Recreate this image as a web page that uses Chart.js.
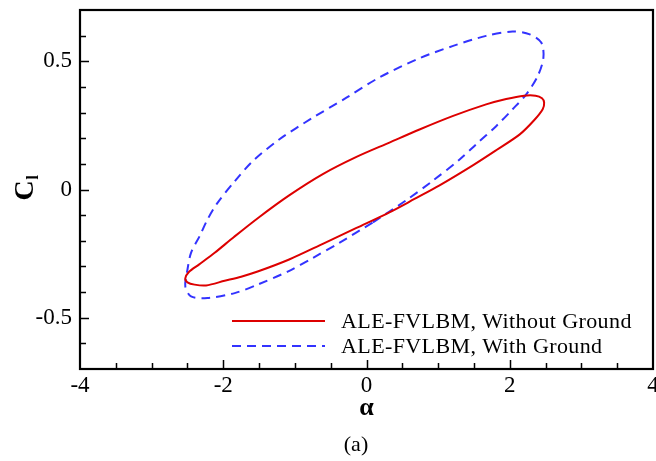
<!DOCTYPE html>
<html>
<head>
<meta charset="utf-8">
<script src="https://cdn.jsdelivr.net/npm/chart.js@4/dist/chart.umd.min.js"></script>
<style>
  html, body { margin: 0; padding: 0; background: #fff; }
</style>
</head>
<body>
<canvas id="lineChart" width="656" height="461"></canvas>
<script>
// Cl - alpha hysteresis loops, each listed once round and closed on its first point
const redAlpha = [-0.14, 0.32, 0.67, 1.02, 1.49, 1.81, 2.14, 2.34, 2.46, 2.48, 2.45, 2.36, 2.20, 1.95, 1.67, 1.21, 0.74, 0.32, -0.14,
  -0.61, -1.08, -1.50, -1.85, -2.12, -2.34, -2.48, -2.53, -2.50, -2.40, -2.24, -1.98, -1.75, -1.52, -1.08, -0.61, -0.14];
const redCl = [-0.150, -0.089, -0.037, 0.016, 0.095, 0.153, 0.215, 0.270, 0.313, 0.339, 0.356, 0.366, 0.366, 0.353, 0.332, 0.287, 0.234, 0.183, 0.127,
  0.060, -0.023, -0.108, -0.185, -0.247, -0.293, -0.322, -0.347, -0.362, -0.371, -0.374, -0.356, -0.340, -0.320, -0.273, -0.212, -0.150];

const blueAlpha = [0.09, 0.55, 0.93, 1.30, 1.53, 1.81, 2.04, 2.23, 2.39, 2.47, 2.44, 2.28, 2.04, 1.67, 1.21, 0.74, 0.18,
  -0.28, -0.75, -1.22, -1.59, -1.84, -2.08, -2.22, -2.33, -2.45, -2.50, -2.53, -2.45, -2.22, -1.84, -1.52, -1.10, -0.75, -0.38, 0.09];
const blueCl = [-0.128, -0.043, 0.035, 0.117, 0.176, 0.247, 0.313, 0.371, 0.442, 0.514, 0.573, 0.605, 0.616, 0.599, 0.560, 0.512, 0.437,
  0.358, 0.280, 0.195, 0.110, 0.032, -0.052, -0.117, -0.182, -0.247, -0.313, -0.378, -0.417, -0.423, -0.404, -0.371, -0.320, -0.267, -0.208, -0.128];

const seriesLabels = ['ALE-FVLBM, Without Ground', 'ALE-FVLBM, With Ground'];
const xTicks = [-4, -2, 0, 2, 4];
const yTicks = [-0.5, 0, 0.5];
const xMinorStep = 0.5;
const yMinorStep = 0.1;

const SERIF = '"Liberation Serif", "Times New Roman", serif';

function toPoints(xs, ys) {
  return xs.map((x, i) => ({ x: x, y: ys[i] }));
}

function isMajor(v, list) {
  return list.some(t => Math.abs(t - v) < 1e-6);
}

// box frame, inward ticks, in-plot legend and axis titles
const decorPlugin = {
  id: 'decor',
  afterDatasetsDraw(chart) {
    const { ctx, chartArea: a, scales: { x, y } } = chart;
    ctx.save();
    ctx.strokeStyle = '#000';
    ctx.lineWidth = 1.5;
    ctx.beginPath();
    const nx0 = Math.ceil(x.min / xMinorStep), nx1 = Math.floor(x.max / xMinorStep);
    for (let i = nx0; i <= nx1; i++) {
      const v = i * xMinorStep;
      if (v <= x.min || v >= x.max) continue;
      const px = Math.round(x.getPixelForValue(v)) + 0.5;
      const len = isMajor(v, xTicks) ? 9 : 6;
      ctx.moveTo(px, a.bottom);
      ctx.lineTo(px, a.bottom - len);
    }
    const ny0 = Math.ceil(y.min / yMinorStep - 1e-6), ny1 = Math.floor(y.max / yMinorStep + 1e-6);
    for (let i = ny0; i <= ny1; i++) {
      const v = i * yMinorStep;
      if (v <= y.min + 1e-6 || v >= y.max - 1e-6) continue;
      const py = Math.round(y.getPixelForValue(v)) + 0.5;
      const len = isMajor(v, yTicks) ? 9 : 6;
      ctx.moveTo(a.left, py);
      ctx.lineTo(a.left + len, py);
    }
    ctx.stroke();

    ctx.lineWidth = 2.2;
    ctx.strokeRect(a.left, a.top, a.right - a.left, a.bottom - a.top);

    // legend
    ctx.font = '22px ' + SERIF;
    ctx.letterSpacing = '0.4px';
    ctx.textAlign = 'left';
    ctx.textBaseline = 'middle';
    chart.data.datasets.forEach((ds, i) => {
      const ry = a.bottom - 48 + i * 25;
      ctx.save();
      ctx.strokeStyle = ds.borderColor;
      ctx.lineWidth = ds.borderWidth;
      ctx.setLineDash(ds.borderDash || []);
      ctx.beginPath();
      ctx.moveTo(a.left + 152, ry);
      ctx.lineTo(a.left + 245, ry);
      ctx.stroke();
      ctx.restore();
      ctx.fillStyle = '#000';
      ctx.fillText(ds.label, a.left + 261, ry + 1);
    });
    ctx.letterSpacing = '0px';

    // axis titles
    ctx.fillStyle = '#000';
    ctx.textAlign = 'center';
    ctx.font = 'bold 26px ' + SERIF;
    ctx.fillText('α', (a.left + a.right) / 2, a.bottom + 39);

    ctx.save();
    ctx.translate(33, (a.top + a.bottom) / 2 - 2);
    ctx.rotate(-Math.PI / 2);
    ctx.textAlign = 'left';
    ctx.textBaseline = 'alphabetic';
    ctx.font = 'bold 28px ' + SERIF;
    const cw = ctx.measureText('C').width;
    ctx.fillText('C', -cw / 2 - 3, 0);
    ctx.font = 'bold 16px ' + SERIF;
    ctx.fillText('l', cw / 2 - 2, 5);
    ctx.restore();

    ctx.font = '22px ' + SERIF;
    ctx.textAlign = 'center';
    ctx.textBaseline = 'middle';
    ctx.fillText('(a)', 356, 445);
    ctx.restore();
  }
};

new Chart(document.getElementById('lineChart'), {
  type: 'scatter',
  data: {
    datasets: [
      {
        label: seriesLabels[0],
        data: toPoints(redAlpha, redCl),
        showLine: true,
        borderColor: '#dd0000',
        borderWidth: 2,
        pointRadius: 0,
        tension: 0.3
      }, {
        label: seriesLabels[1],
        data: toPoints(blueAlpha, blueCl),
        showLine: true,
        borderColor: '#3333ff',
        borderWidth: 2,
        borderDash: [9, 6],
        pointRadius: 0,
        tension: 0.3
      }
    ]
  },
  options: {
    responsive: false,
    animation: false,
    devicePixelRatio: 1,
    layout: { padding: { left: 0, right: 3, top: 10, bottom: 62 } },
    plugins: { legend: { display: false }, tooltip: { enabled: false } },
    scales: {
      x: {
        type: 'linear',
        min: -4,
        max: 4,
        afterBuildTicks: s => { s.ticks = xTicks.map(v => ({ value: v })); },
        afterFit: s => { s.height = 30; s.paddingLeft = 0; s.paddingRight = 0; },
        grid: { display: false, drawTicks: false },
        border: { display: false },
        ticks: {
          color: '#000',
          font: { family: SERIF, size: 23 },
          padding: 3,
          maxRotation: 0,
          autoSkip: false,
          callback: v => String(v)
        }
      },
      y: {
        type: 'linear',
        min: -0.7,
        max: 0.7,
        afterBuildTicks: s => { s.ticks = yTicks.map(v => ({ value: v })); },
        afterFit: s => { s.width = 80; s.paddingTop = 0; s.paddingBottom = 0; },
        grid: { display: false, drawTicks: false },
        border: { display: false },
        ticks: {
          color: '#000',
          font: { family: SERIF, size: 23 },
          padding: 8,
          autoSkip: false,
          callback: v => String(v)
        }
      }
    }
  },
  plugins: [decorPlugin]
});
</script>
</body>
</html>
